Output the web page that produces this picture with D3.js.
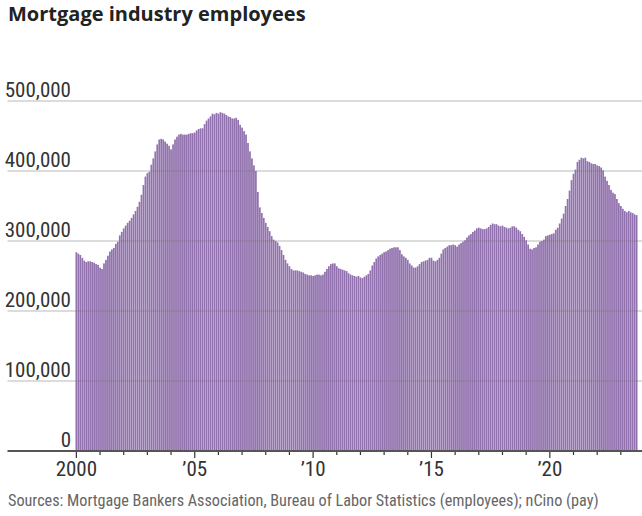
<!DOCTYPE html>
<html>
<head>
<meta charset="utf-8">
<script src="https://cdn.jsdelivr.net/npm/d3@7"></script>
<style>
  body { margin: 0; background: #fff; }
  svg { display: block; }
</style>
</head>
<body>
<div id="wrapper"></div>
<script>
// monthly mortgage industry employees, thousands (Jan of each year starts a row)
const employees2000s = [
  284, 282, 280, 276, 272, 270, 271, 271, 270, 269, 267, 266, // 2000
  262, 260, 268, 273, 279, 285, 288, 290, 296, 299, 308, 313, // 2001
  318, 322, 326, 329, 333, 338, 343, 349, 356, 366, 380, 392, // 2002
  397, 399, 409, 418, 428, 438, 445, 446, 445, 442, 439, 436, // 2003
  431, 438, 445, 449, 452, 453, 452, 452, 452, 453, 454, 454, // 2004
  455, 458, 460, 461, 461, 467, 472, 475, 478, 482, 481, 483, // 2005
  482, 484, 483, 482, 480, 478, 477, 475, 475, 476, 473, 466, // 2006
  462, 457, 452, 440, 428, 418, 408, 400, 370, 348, 340, 333, // 2007
  326, 320, 314, 307, 302, 300, 298, 293, 287, 280, 273, 268, // 2008
  264, 260, 258, 258, 258, 257, 256, 255, 253, 252, 251, 251  // 2009
];
const employees2010s = [
  250, 251, 252, 252, 251, 252, 256, 260, 264, 267, 268, 268, // 2010
  264, 261, 260, 259, 258, 257, 254, 252, 251, 250, 249, 250, // 2011
  248, 247, 249, 251, 253, 258, 265, 270, 275, 278, 280, 282, // 2012
  284, 285, 287, 289, 290, 291, 291, 291, 287, 281, 278, 276, // 2013
  273, 268, 265, 262, 262, 264, 267, 270, 271, 272, 273, 276, // 2014
  276, 272, 271, 273, 276, 282, 288, 290, 292, 294, 294, 295, // 2015
  294, 292, 295, 297, 299, 301, 305, 308, 310, 313, 315, 318, // 2016
  319, 318, 317, 317, 318, 320, 323, 325, 324, 324, 322, 321, // 2017
  322, 320, 319, 318, 319, 321, 321, 319, 316, 314, 310, 306, // 2018
  301, 295, 289, 288, 290, 291, 295, 299, 300, 302, 307, 308  // 2019
];
const employees2020s = [
  309, 310, 311, 316, 319, 325, 332, 339, 350, 360, 372, 387, // 2020
  396, 402, 413, 416, 419, 418, 419, 414, 413, 411, 410, 410, // 2021
  408, 407, 405, 401, 392, 386, 380, 373, 369, 367, 360, 354, // 2022
  350, 346, 343, 341, 343, 341, 340, 338, 337                 // 2023
];

const yTicks = [0, 100000, 200000, 300000, 400000, 500000];
const xLabelYears = [2000, 2005, 2010, 2015, 2020];
const xLabels = ["2000", "\u201905", "\u201910", "\u201915", "\u201920"];

const titleText = "Mortgage industry employees";
const sourceText = "Sources: Mortgage Bankers Association, Bureau of Labor Statistics (employees); nCino (pay)";

function drawChart() {
    const values = [...employees2000s, ...employees2010s, ...employees2020s];
    const months = d3.timeMonth.range(new Date(2000, 0, 1), new Date(2000, values.length, 1));
    const dataset = months.map((date, i) => ({ date, value: values[i] * 1000 }));

    const xAccessor = d => d.date;
    const yAccessor = d => d.value;

    let dimensions = {
        width: 642,
        height: 516,
        margin: {
            top: 101,
            right: 4.5,
            bottom: 65,
            left: 75.5,
        },
    };
    dimensions.boundedWidth = dimensions.width - dimensions.margin.left - dimensions.margin.right;
    dimensions.boundedHeight = dimensions.height - dimensions.margin.top - dimensions.margin.bottom;

    const narrow = "'Liberation Sans Narrow', 'Roboto Condensed', 'Liberation Sans', sans-serif";

    const wrapper = d3.select("#wrapper")
        .append("svg")
        .attr("width", dimensions.width)
        .attr("height", dimensions.height);

    // title + source
    wrapper.append("text")
        .attr("x", 8)
        .attr("y", 21)
        .attr("fill", "#222")
        .style("font-family", "'Open Sans', sans-serif")
        .style("font-weight", 700)
        .style("font-size", "20px")
        .text(titleText);

    wrapper.append("text")
        .attr("x", 8)
        .attr("y", 506)
        .attr("fill", "#666")
        .style("font-family", narrow)
        .style("font-size", "16.2px")
        .text(sourceText);

    const bounds = wrapper.append("g")
        .attr("transform", `translate(${dimensions.margin.left}, ${dimensions.margin.top})`);

    // scales
    const xScale = d3.scaleBand()
        .domain(dataset.map(xAccessor))
        .range([0, dimensions.boundedWidth])
        .paddingInner(0.12);

    const yScale = d3.scaleLinear()
        .domain([0, 500000])
        .range([dimensions.boundedHeight, 0]);

    // bars
    bounds.append("g")
        .selectAll("rect")
        .data(dataset)
        .join("rect")
        .attr("x", d => xScale(xAccessor(d)))
        .attr("y", d => yScale(yAccessor(d)))
        .attr("width", xScale.bandwidth())
        .attr("height", d => dimensions.boundedHeight - yScale(yAccessor(d)))
        .attr("fill", "#9272ae");

    // gridlines sit on top of the bars
    const gridLeft = 7.5 - dimensions.margin.left;
    const gridRight = dimensions.width - dimensions.margin.left;

    bounds.append("g")
        .selectAll("line")
        .data(yTicks.filter(d => d > 0))
        .join("line")
        .attr("x1", gridLeft)
        .attr("x2", gridRight)
        .attr("y1", d => yScale(d))
        .attr("y2", d => yScale(d))
        .attr("stroke", "rgba(120, 120, 120, 0.26)")
        .attr("stroke-width", 2);

    bounds.append("g")
        .selectAll("text")
        .data(yTicks)
        .join("text")
        .attr("x", 71 - dimensions.margin.left)
        .attr("y", d => yScale(d) - 4)
        .attr("text-anchor", "end")
        .attr("fill", "#333")
        .style("font-family", narrow)
        .style("font-size", "21px")
        .text(d => d3.format(",")(d));

    // x axis: yearly ticks, long ones every five years
    const januaries = dataset.map(xAccessor).filter(d => d.getMonth() === 0);
    const xAxisGenerator = d3.axisBottom(xScale)
        .tickValues(januaries)
        .tickSize(4)
        .tickSizeOuter(0)
        .tickFormat(d => {
            const idx = xLabelYears.indexOf(d.getFullYear());
            return idx >= 0 ? xLabels[idx] : "";
        });

    const xAxis = bounds.append("g")
        .attr("transform", `translate(0, ${dimensions.boundedHeight})`)
        .call(xAxisGenerator);

    xAxis.select(".domain").remove();
    xAxis.selectAll(".tick line")
        .attr("stroke", "#333")
        .attr("stroke-width", 1.2)
        .attr("y2", d => xLabelYears.includes(d.getFullYear()) ? 7 : 4);
    xAxis.selectAll(".tick text")
        .attr("y", 10)
        .attr("fill", "#333")
        .style("font-family", narrow)
        .style("font-size", "21px");

    xAxis.append("line")
        .attr("x1", gridLeft)
        .attr("x2", gridRight)
        .attr("stroke", "#555")
        .attr("stroke-width", 2);
}

drawChart();
</script>
</body>
</html>
